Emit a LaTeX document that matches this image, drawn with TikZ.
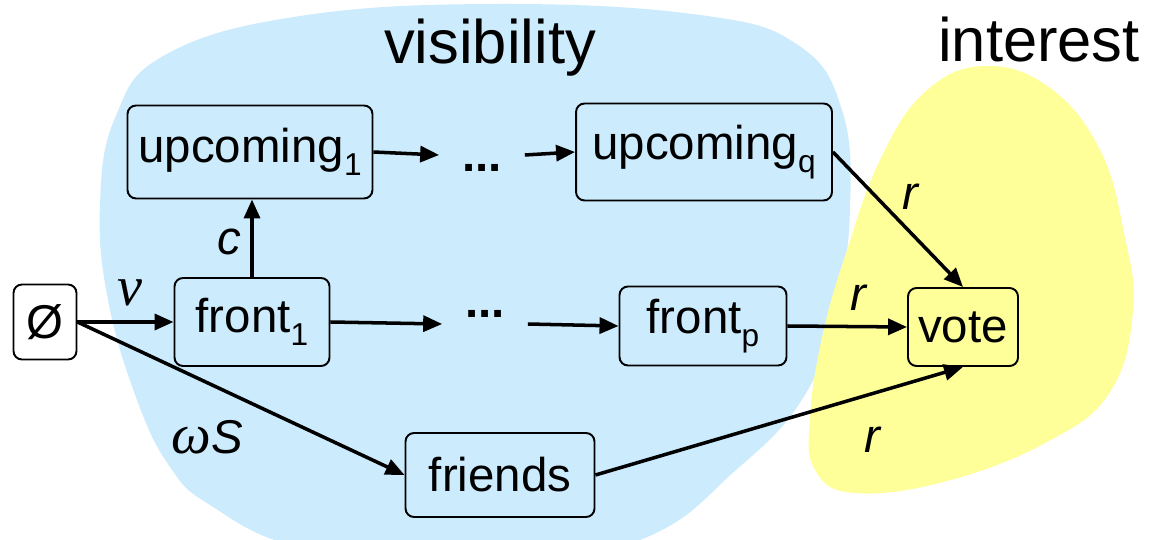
\documentclass[tikz,border=0pt]{standalone}
\usepackage{fontspec}
\setmainfont{Liberation Sans}
\newfontfamily\greekfont{Liberation Serif}
\usetikzlibrary{arrows.meta}
\definecolor{skyblue}{HTML}{CCEBFD}
\definecolor{paleyellow}{HTML}{FFFF99}
% lowered index after a state name
\newcommand{\idx}[1]{\raisebox{-0.28em}{\fontsize{18}{20}\selectfont #1}}

\begin{document}
\begin{tikzpicture}[x=0.02cm, y=-0.02cm,
  >={Triangle[length=0.38cm, width=0.32cm]},
  box/.style={draw, line width=1.1pt, rounded corners=0.17cm, inner sep=0pt,
    font=\fontsize{27}{30}\selectfont, align=center},
  edge/.style={line width=2pt, ->},
  lbl/.style={font=\fontsize{27}{30}\selectfont\itshape},
  dots/.style={inner sep=0pt, minimum width=1.7cm,
    font=\fontsize{27}{30}\selectfont\bfseries}]

\useasboundingbox (0,0) rectangle (1149,540);
\clip (0,0) rectangle (1149,540);

% ================================================================
% Regions
% ================================================================
\fill[skyblue] plot[smooth cycle, tension=0.7] coordinates {
  (500,4) (700,15) (798,45) (842,110) (850,208) (836,311) (803,398)
  (736,470) (640,540) (470,575) (300,548) (210,505) (170,467)
  (137,400) (108,300) (100,205) (115,118) (165,55) (300,16)};

\fill[paleyellow] plot[smooth cycle, tension=0.7] coordinates {
  (985,66) (1050,88) (1100,150) (1124,233) (1133,310) (1110,392)
  (1047,442) (947,481) (855,493) (815,470) (810,417) (823,333)
  (847,250) (880,160) (925,92)};

\node[font=\fontsize{35}{40}\selectfont, anchor=base] (vistitle) at (490,64) {visibility};
\node[font=\fontsize{35}{40}\selectfont, anchor=base] (inttitle) at (1039,62) {interest};

% ================================================================
% States
% ================================================================
\node[box, fill=white, minimum width=1.26cm, minimum height=1.5cm] (empty) at (45,322) {Ø};
\node[box, fill=skyblue, minimum width=3.1cm, minimum height=1.76cm] (front1) at (252,322) {front\idx{1}};
\node[box, fill=skyblue, minimum width=4.9cm, minimum height=1.86cm] (up1) at (250,152) {upcoming\idx{1}};
\node[box, fill=skyblue, minimum width=5.12cm, minimum height=1.94cm] (upq) at (704,152) {upcoming\idx{q}};
\node[box, fill=skyblue, minimum width=3.34cm, minimum height=1.58cm] (frontp) at (703,326) {front\idx{p}};
\node[box, fill=paleyellow, minimum width=2.2cm, minimum height=1.56cm] (vote) at (963,327) {vote};
\node[box, fill=skyblue, minimum width=3.78cm, minimum height=1.68cm] (friends) at (500,475) {friends};

% the two runs of dots
\node[dots, text height=0.68cm, text depth=0cm] (dotsup) at (482,155) {...};
\node[dots, text height=0cm, text depth=0.24cm] (dotsfront) at (485,324) {...};

% ================================================================
% Transitions
% ================================================================
\draw[edge] (empty.east) -- (front1.west);
\draw[edge] (empty.east) -- (friends.west);
\draw[edge] (front1.north) -- (front1.north |- up1.south);
\draw[edge] (up1.east) -- (dotsup.west);
\draw[edge] (dotsup.east) -- (upq.west);
\draw[edge] (front1.east) -- (dotsfront.west);
\draw[edge] (dotsfront.east) -- (frontp.west);
\draw[edge] (upq.east) -- (vote.north);
\draw[edge] (frontp.east) -- (vote.west);
\draw[edge] (friends.east) -- (vote.south);

% rates
\node[lbl] (lnu) at (130,293) {\greekfont\fontsize{32}{36}\selectfont ν};
\node[lbl] (lomega) at (207,437) {{\greekfont\fontsize{32}{36}\selectfont ω}S};
\node[lbl] (lc) at (229,242) {c};
\node[lbl] (lr1) at (910,197) {r};
\node[lbl] (lr2) at (858,298) {r};
\node[lbl] (lr3) at (872,440) {r};

\end{tikzpicture}
\end{document}
